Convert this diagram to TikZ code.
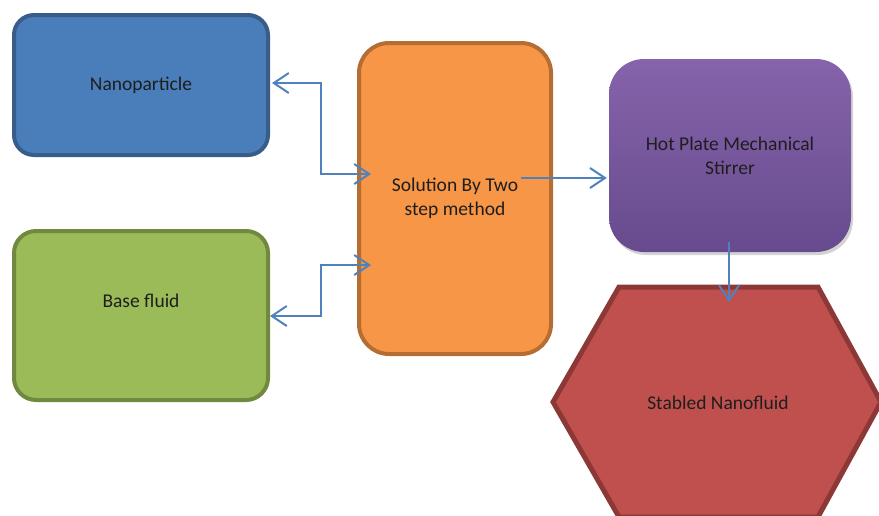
\documentclass[tikz,border=0pt]{standalone}
\usepackage{fontspec}
\setmainfont{Carlito}
\usetikzlibrary{arrows.meta,shadows,calc}
\definecolor{arrowblue}{RGB}{79,129,189}
\definecolor{nanofill}{RGB}{74,126,187}
\definecolor{nanodraw}{RGB}{56,93,138}
\definecolor{basefill}{RGB}{155,187,89}
\definecolor{basedraw}{RGB}{113,137,63}
\definecolor{solfill}{RGB}{247,150,70}
\definecolor{soldraw}{RGB}{182,109,49}
\definecolor{hottop}{RGB}{134,99,171}
\definecolor{hotbot}{RGB}{103,75,142}
\definecolor{stabfill}{RGB}{192,80,77}
\definecolor{stabdraw}{RGB}{140,56,54}
\definecolor{txt}{RGB}{30,30,30}
\begin{document}
\begin{tikzpicture}[x=1pt,y=-1pt,
  every node/.style={font=\fontsize{19.5}{24}\selectfont, text=txt, align=center},
  box/.style={rectangle, line width=4pt, inner sep=0pt},
  conn/.style={draw=arrowblue, line width=2pt, >={Straight Barb[length=15pt,width=20pt,line width=2pt]}}
]
\useasboundingbox (0,0) rectangle (879,515);
% boxes
\node[box, fill=nanofill, draw=nanodraw, rounded corners=20pt, minimum width=254pt, minimum height=140pt] (nano) at (141,85) {Nanoparticle};
\node[box, fill=basefill, draw=basedraw, rounded corners=22pt, minimum width=254pt, minimum height=169pt] (base) at (141,315.5) {};
\node (basetxt) at (141,301) {Base fluid};
\node[box, fill=solfill, draw=soldraw, rounded corners=30pt, minimum width=192pt, minimum height=311pt] (sol) at (455,198.5) {Solution By Two\\step method};
\node[rectangle, rounded corners=35pt, minimum width=242pt, minimum height=193pt, top color=hottop, bottom color=hotbot, inner sep=0pt,
  drop shadow={opacity=0.35, shadow xshift=2pt, shadow yshift=-3pt}] (hot) at (730,155.5) {Hot Plate Mechanical\\Stirrer};
% hexagon
\draw[fill=stabfill, draw=stabdraw, line width=5pt, line join=miter]
  (619,287) -- (818,287) -- (881,402) -- (818,517) -- (619,517) -- (553,402) -- cycle;
\node (stab) at (718,403) {Stabled Nanofluid};
% connector points
\coordinate (nanoEnd) at (nano.east);
\coordinate (solA) at ($(sol.west)+(14,-24.5)$);
\coordinate (solB) at ($(sol.west)+(14,66.5)$);
\coordinate (baseEnd) at ($(base.east)+(0,0.5)$);
\coordinate (solOut) at (521,178);
\coordinate (hotIn) at ($(hot.west)+(-2,22.5)$);
\coordinate (hotOut) at ($(hot.south)+(-1,-10.5)$);
\coordinate (stabIn) at (729,302);
% connectors
\draw[conn,<->] ($(nano.east)+(2,-2)$) -- (321,83) |- (solA);
\draw[conn,<->] (baseEnd) -- (321,316) |- (solB);
\draw[conn,->] (solOut) -- (hotIn);
\draw[conn,->] (hotOut) -- (stabIn);
\end{tikzpicture}
\end{document}
